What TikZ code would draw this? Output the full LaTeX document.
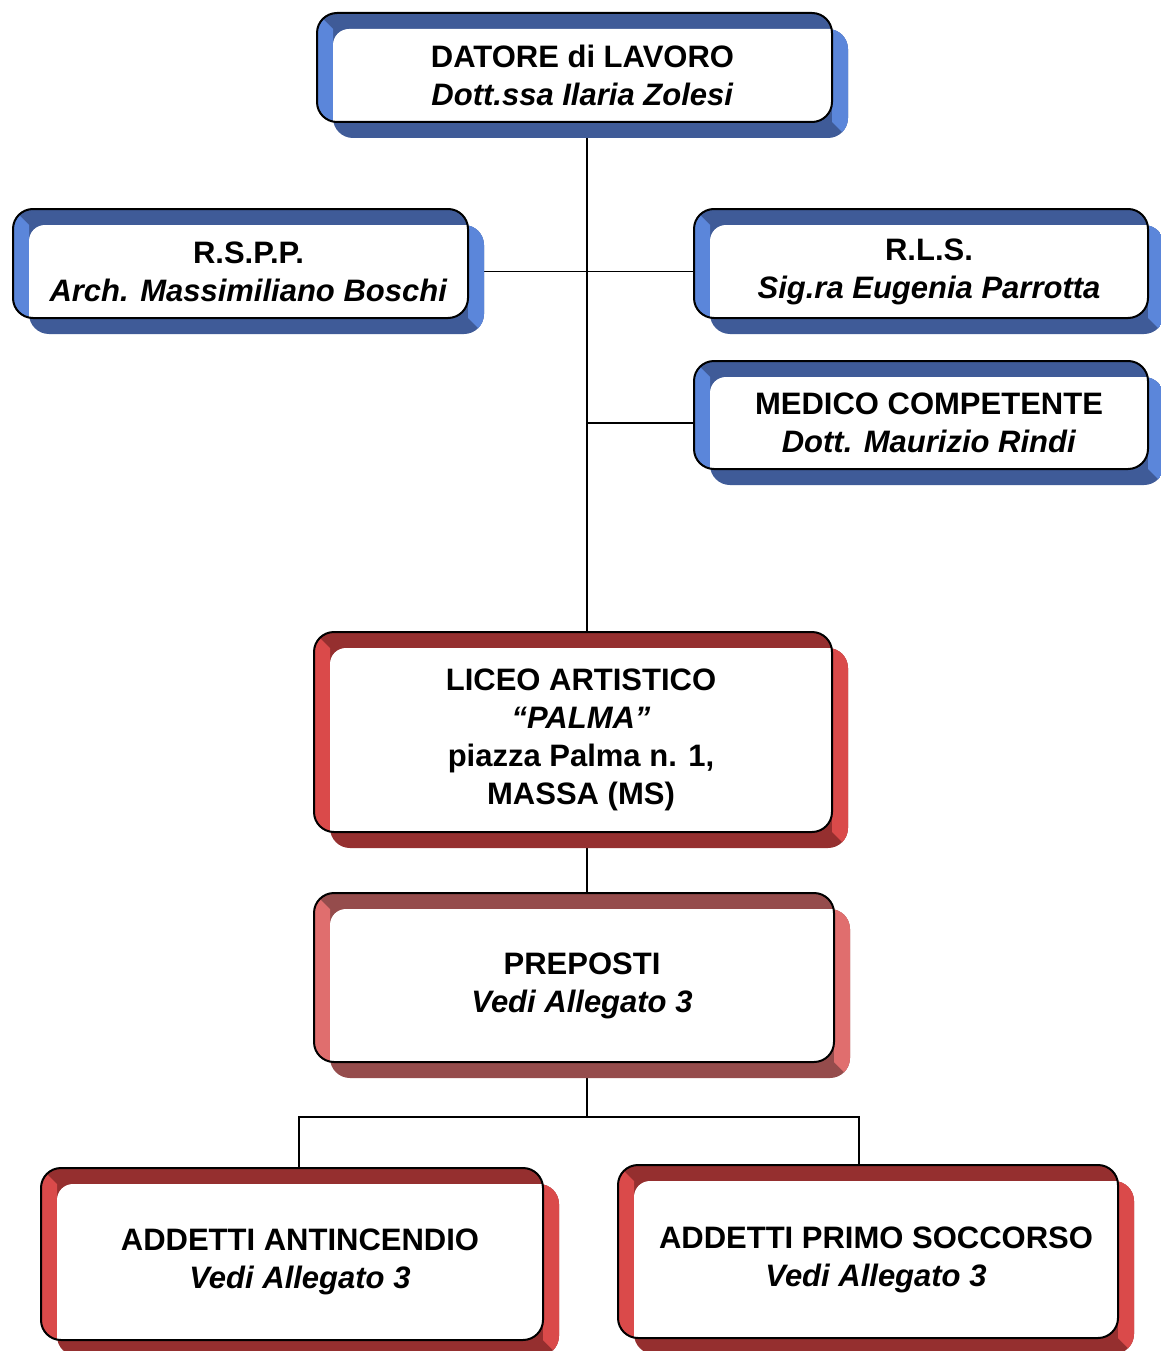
\documentclass[tikz,border=0pt]{standalone}
\usepackage{fontspec}
\setmainfont{Liberation Sans}
\usetikzlibrary{calc}
\pgfdeclarelayer{bg}
\pgfsetlayers{bg,main}
\definecolor{blueD}{HTML}{3F5B98}
\definecolor{blueL}{HTML}{5B86DA}
\definecolor{redD}{HTML}{952F2F}
\definecolor{redL}{HTML}{DA4A4A}
\definecolor{pinkD}{HTML}{954C4C}
\definecolor{pinkL}{HTML}{E06E6E}
\tikzset{
  txt/.style={align=center, inner sep=0pt, font=\fontsize{31pt}{38pt}\selectfont\bfseries},
  conn/.style={line width=1.5pt, black},
  outline/.style={line width=2pt, black, rounded corners=20pt}
}
\newcommand\obox[8]{%
  \begin{scope}
    \clip[rounded corners=20pt] (#2+16,#3+16) rectangle (#4+16,#5+16);
    \fill[#6] (#2,#3) rectangle (#4+30,#5+30);
    \fill[#7] (#4,#3) -- (#4+30,#3) -- (#4+30,#5+30) -- (#4,#5) -- cycle;
  \end{scope}
  \begin{scope}
    \clip[rounded corners=20pt] (#2,#3) rectangle (#4,#5);
    \fill[#6] (#2,#3) rectangle (#4,#5);
    \fill[#7] (#2-5,#3-5) -- (#2+16,#3+16) -- (#2+16,#5+5) -- (#2-5,#5+5) -- cycle;
    \fill[white, rounded corners=16pt] (#2+16,#3+16) rectangle (#4+40,#5+40);
  \end{scope}
  \draw[outline] (#2,#3) rectangle (#4,#5);
  \node[txt] (#1) at ({(#2+16+#4)/2},{(#3+16+#5)/2}) {#8};
}
\begin{document}
\begin{tikzpicture}[x=1pt,y=-1pt]
\useasboundingbox (0,0) rectangle (1160,1351);
\begin{pgfonlayer}{bg}
  \fill[white] (0,0) rectangle (1160,1351);
\end{pgfonlayer}

\obox{datore}{317}{13}{832}{122}{blueD}{blueL}{DATORE di LAVORO\\\textit{Dott.ssa Ilaria Zolesi}}
\obox{rspp}{13}{209}{468}{318}{blueD}{blueL}{R.S.P.P.\\\textit{Arch. Massimiliano Boschi}}
\obox{rls}{694}{209}{1148}{318}{blueD}{blueL}{R.L.S.\\\textit{Sig.ra Eugenia Parrotta}}
\obox{medico}{694}{361}{1148}{469}{blueD}{blueL}{MEDICO COMPETENTE\\\textit{Dott. Maurizio Rindi}}
\obox{liceo}{314}{632}{832}{832}{redD}{redL}{LICEO ARTISTICO\\\textit{“PALMA”}\\piazza Palma n. 1,\\MASSA (MS)}
\obox{prep}{314}{893}{834}{1062}{pinkD}{pinkL}{PREPOSTI\\\textit{Vedi Allegato 3}}
\obox{antinc}{41}{1168}{543}{1340}{redD}{redL}{ADDETTI ANTINCENDIO\\\textit{Vedi Allegato 3}}
\obox{primo}{618}{1165}{1118}{1338}{redD}{redL}{ADDETTI PRIMO SOCCORSO\\\textit{Vedi Allegato 3}}

\begin{pgfonlayer}{bg}
  \coordinate (spine) at (587,0);
  \coordinate (bl) at (299,1117);
  \coordinate (br) at (859,1117);
  \draw[conn] (datore -| spine) -- (liceo -| spine);
  \draw[conn] (rspp) -- (rls);
  \draw[conn] (medico -| spine) -- (medico);
  \draw[conn] (liceo -| spine) -- (prep -| spine);
  \draw[conn] (prep -| spine) -- (bl -| spine);
  \draw[conn] (antinc -| bl) -- (bl) -- (br) -- (primo -| br);
\end{pgfonlayer}
\end{tikzpicture}
\end{document}
